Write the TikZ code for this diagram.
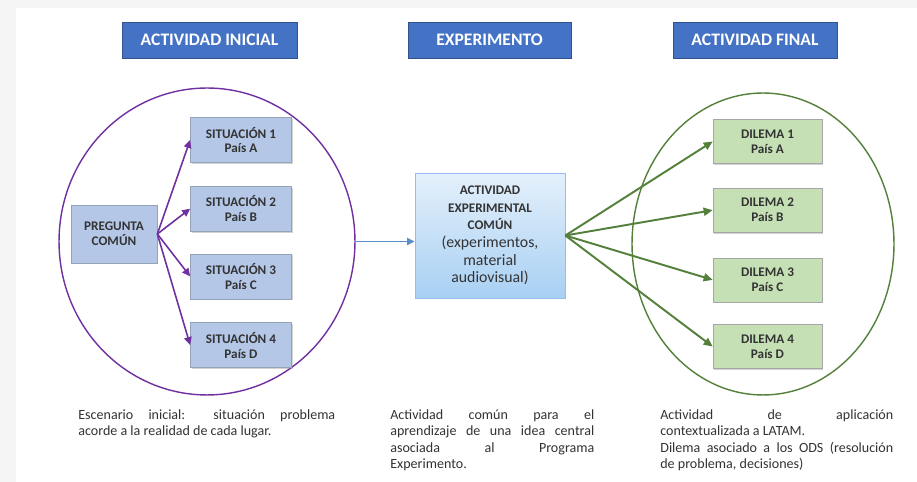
\documentclass[tikz,border=0pt]{standalone}
\usepackage{fontspec}
\setmainfont{Carlito}
\usetikzlibrary{arrows.meta,positioning,shapes.geometric,shadows}
\definecolor{headblue}{HTML}{4472C4}
\definecolor{headedge}{HTML}{2F528F}
\definecolor{sitfill}{HTML}{B4C7E7}
\definecolor{dilfill}{HTML}{C5E0B4}
\definecolor{boxedge}{HTML}{95A3B8}
\definecolor{ovpurple}{HTML}{7030A0}
\definecolor{ovgreen}{HTML}{53803A}
\definecolor{linkblue}{HTML}{5B8FC9}
\definecolor{textgray}{HTML}{333333}
\definecolor{exptop}{HTML}{E4F0FB}
\definecolor{expbot}{HTML}{A8D0F3}
\newcommand{\regline}{\mdseries\fontsize{9}{10}\selectfont}
\tikzset{
  headbox/.style={
    draw=headedge,
    fill=headblue,
    text=white,
    minimum height=0.72cm,
    inner sep=0pt,
    font=\fontsize{10}{12}\selectfont\bfseries,
    drop shadow={shadow xshift=0.6pt, shadow yshift=-0.6pt, opacity=0.3}
  },
  sitbox/.style={
    draw=boxedge,
    fill=sitfill,
    minimum width=2.02cm,
    minimum height=0.9cm,
    inner sep=0pt,
    align=center,
    text=textgray,
    font=\fontsize{7.5}{8.5}\selectfont\bfseries,
    drop shadow={shadow xshift=0.8pt, shadow yshift=-0.8pt, opacity=0.35}
  },
  dilbox/.style={
    sitbox,
    fill=dilfill,
    draw=gray!70,
    minimum width=2.18cm,
    minimum height=0.88cm
  },
  expbox/.style={
    draw=expbot!90!blue,
    top color=exptop,
    bottom color=expbot,
    minimum width=3cm,
    minimum height=2.5cm,
    inner sep=0pt,
    align=center,
    text=textgray,
    font=\fontsize{7.5}{10}\selectfont\bfseries
  },
  ovalnode/.style={
    ellipse,
    inner sep=0pt,
    line width=0.8pt
  },
  notetext/.style={
    anchor=north west,
    inner sep=0pt,
    align=justify,
    text=textgray,
    font=\fontsize{8}{9.4}\selectfont
  },
  purplearrow/.style={
    -{Triangle[length=1.6mm,width=1.5mm]},
    line width=0.9pt,
    draw=ovpurple
  },
  greenarrow/.style={
    -{Triangle[length=1.8mm,width=1.6mm]},
    line width=1.1pt,
    draw=ovgreen
  },
  bluearrow/.style={
    -{Triangle[length=1.5mm,width=1.4mm]},
    line width=1.1pt,
    draw=linkblue
  }
}

\begin{document}
\begin{tikzpicture}[x=0.02cm, y=-0.02cm]
\fill[gray!8] (0,0) rectangle (917,482);
\fill[white] (16,8) rectangle (917,482);
\useasboundingbox (0,0) rectangle (917,482);

\node[headbox, minimum width=3.5cm] (hdrIni) at (209.5,40) {ACTIVIDAD INICIAL};
\node[headbox, minimum width=3.26cm] (hdrExp) at (489.5,40) {EXPERIMENTO};
\node[headbox, minimum width=3.28cm] (hdrFin) at (755,40) {ACTIVIDAD FINAL};

\node[ovalnode, draw=ovpurple, minimum width=5.92cm, minimum height=6.14cm] (ovIni) at (207,241.5) {};
\node[ovalnode, draw=ovgreen, minimum width=5.24cm, minimum height=6.04cm] (ovFin) at (763,244) {};

\node[sitbox, minimum width=1.72cm, minimum height=1.16cm] (pregunta) at (114,234) {PREGUNTA\\COMÚN};
\node[sitbox] (sit1) at (241,140) {SITUACIÓN 1\\País A};
\node[sitbox, below=0.46cm of sit1] (sit2) {SITUACIÓN 2\\País B};
\node[sitbox, below=0.44cm of sit2] (sit3) {SITUACIÓN 3\\País C};
\node[sitbox, below=0.46cm of sit3] (sit4) {SITUACIÓN 4\\País D};

\node[expbox] (exper) at (490,235.5) {ACTIVIDAD\\EXPERIMENTAL\\COMÚN\\\regline (experimentos,\\\regline material\\\regline audiovisual)};

\node[dilbox] (dil1) at (767.5,141.5) {DILEMA 1\\País A};
\node[dilbox, below=0.48cm of dil1] (dil2) {DILEMA 2\\País B};
\node[dilbox, below=0.5cm of dil2] (dil3) {DILEMA 3\\País C};
\node[dilbox, below=0.44cm of dil3] (dil4) {DILEMA 4\\País D};

\foreach \s in {sit1,sit2,sit3,sit4}
  \draw[purplearrow] (pregunta.east) -- (\s.west);
\draw[bluearrow] (ovIni.east) -- (ovIni.east -| exper.west);
\foreach \d in {dil1,dil2,dil3,dil4}
  \draw[greenarrow] (exper.east) -- (\d.west);

\node[notetext, text width=5.14cm] (noteIni) at (78,409)
  {Escenario inicial: situación problema\linebreak acorde a la realidad de cada lugar.};
\node[notetext, text width=4.08cm] (noteExp) at (390,409)
  {Actividad común para el\linebreak aprendizaje de una idea central\linebreak asociada al Programa\linebreak Experimento.};
\node[notetext, text width=4.66cm] (noteFin) at (660,409)
  {Actividad de aplicación\linebreak contextualizada a LATAM.\\Dilema asociado a los ODS (resolución\linebreak de problema, decisiones)};
\end{tikzpicture}
\end{document}
